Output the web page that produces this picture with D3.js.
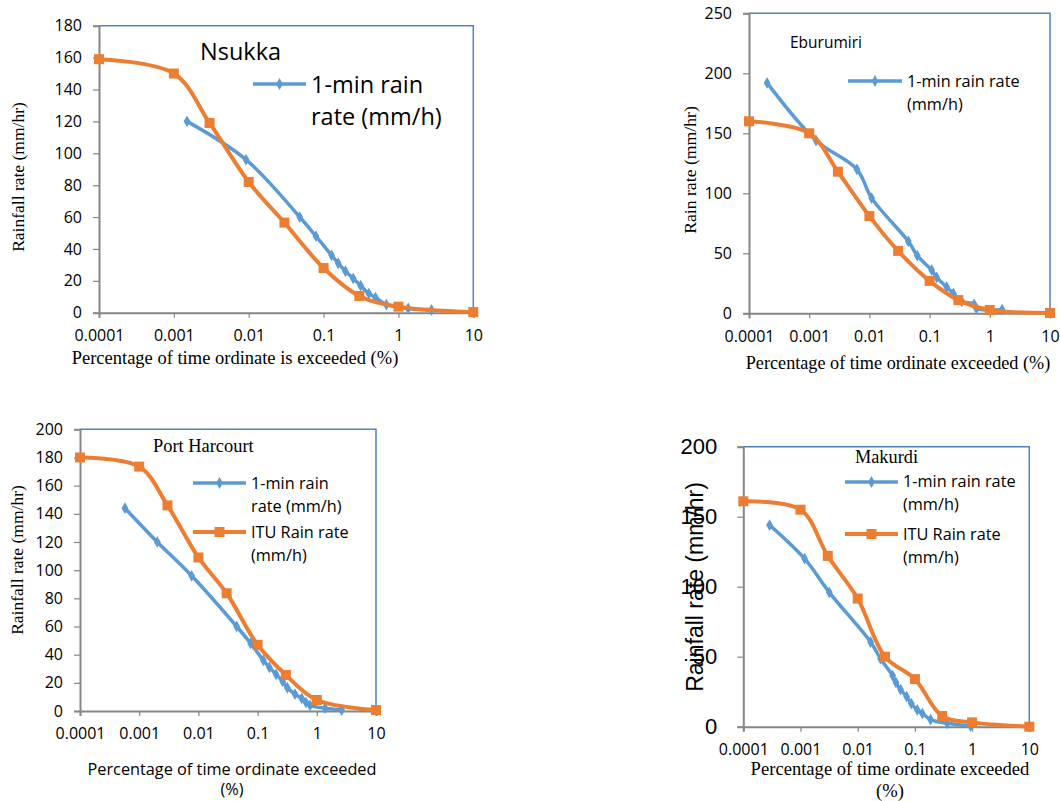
<!DOCTYPE html>
<html><head><meta charset="utf-8">
<script src="https://cdn.jsdelivr.net/npm/d3@7/dist/d3.min.js"></script>
<style>body{margin:0;background:#fff}svg{display:block}</style>
</head><body><svg id="c" width="1060" height="801"></svg>
<script>
// ---------- DATA ----------
const xTickValues = [0.0001, 0.001, 0.01, 0.1, 1, 10];
const xTickLabels = ["0.0001", "0.001", "0.01", "0.1", "1", "10"];
const ituPct = [0.0001, 0.001, 0.003, 0.01, 0.03, 0.1, 0.3, 1, 10];

const nsukkaItu = [159, 150, 119, 82, 56.5, 28, 10.5, 3.8, 0.4];
const nsukkaOneMinPct = [0.0015, 0.0092, 0.048, 0.079, 0.128, 0.157, 0.196, 0.249, 0.312, 0.403, 0.494, 0.69, 1.35, 2.76];
const nsukkaOneMin = [120, 96, 60, 48, 36, 31, 26, 21.5, 17, 12, 9.5, 5, 2.7, 1.7];

const eburumiriItu = [160, 150, 118, 81, 52, 27, 11, 2.8, 0.3];
const eburumiriOneMinPct = [0.0002, 0.0013, 0.0062, 0.0109, 0.0443, 0.0625, 0.108, 0.131, 0.192, 0.248, 0.341, 0.547, 0.6, 1.6];
const eburumiriOneMin = [192, 144, 120, 96, 60, 48, 36, 30, 22, 16.5, 10, 7.5, 4, 3];

const portHarcourtItu = [180, 173.5, 146, 109, 83.6, 47, 25.6, 7.8, 0.7];
const portHarcourtOneMinPct = [0.000575, 0.00202, 0.00769, 0.0443, 0.0764, 0.125, 0.158, 0.205, 0.265, 0.318, 0.428, 0.556, 0.658, 0.768, 1.38, 2.63];
const portHarcourtOneMin = [144, 120, 96, 60, 48, 36, 31, 26, 21, 16.5, 12, 9, 6, 4, 2, 0.7];

const makurdiItu = [161, 155, 122, 91.5, 50, 34, 7.6, 3.1, 0];
const makurdiOneMinPct = [0.000288, 0.00118, 0.00318, 0.0168, 0.0251, 0.0408, 0.0467, 0.0562, 0.0716, 0.0865, 0.110, 0.135, 0.188, 0.368, 0.94];
const makurdiOneMin = [144, 120, 96, 60.5, 48.5, 36.5, 31.5, 26.5, 21.5, 16.5, 12, 9.5, 5, 2.4, 0.5];

// ---------- STYLE ----------
const BLUE = "#5b9bd5", ORANGE = "#ed7d31", FRAME = "#4f81bd", AXIS = "#868686";
const SANS = "'Open Sans', 'Liberation Sans', sans-serif";
const SERIF = "'Liberation Serif', 'Times New Roman', serif";
const ARIAL = "'Liberation Sans', Arial, sans-serif";

const svg = d3.select("#c");

function panel(cfg) {
  const g = svg.append("g");
  const x = d3.scaleLog().domain([0.0001, 10]).range([cfg.left, cfg.right]);
  const y = d3.scaleLinear().domain([0, cfg.yMax]).range([cfg.bottom, cfg.top]);

  g.append("path")
    .attr("d", `M${cfg.left},${cfg.top}H${cfg.right}V${cfg.bottom}`)
    .attr("fill", "none").attr("stroke", FRAME).attr("stroke-width", 1.5);

  const yTicks = d3.range(0, cfg.yMax + 0.001, cfg.yStep);
  const ya = g.append("g").attr("transform", `translate(${cfg.left},0)`)
    .call(d3.axisLeft(y).tickValues(yTicks).tickSize(6).tickPadding(cfg.yPad || 11).tickFormat(d3.format("d")));
  ya.select(".domain").attr("stroke", AXIS).attr("stroke-width", 2);
  ya.selectAll(".tick line").attr("stroke", AXIS).attr("stroke-width", 1.2);
  ya.selectAll(".tick text").attr("font-family", cfg.yTickFont || SANS)
    .attr("font-size", cfg.yTickSize || 16).attr("fill", "#000");

  const xa = g.append("g").attr("transform", `translate(0,${cfg.bottom})`)
    .call(d3.axisBottom(x).tickValues(xTickValues).tickSize(5).tickPadding(12)
      .tickFormat((d, i) => xTickLabels[i]));
  xa.select(".domain").attr("stroke", AXIS).attr("stroke-width", 2);
  xa.selectAll(".tick line").attr("stroke", AXIS).attr("stroke-width", 1.2);
  xa.selectAll(".tick text").attr("font-family", SANS).attr("font-size", 16).attr("fill", "#000");

  const line = d3.line().x(d => x(d[0])).y(d => y(d[1])).curve(d3.curveCatmullRom.alpha(0.5));

  const blue = cfg.oneMinPct.map((p, i) => [p, cfg.oneMin[i]]);
  const orange = ituPct.map((p, i) => [p, cfg.itu[i]]);

  g.append("path").attr("d", line(blue)).attr("fill", "none")
    .attr("stroke", BLUE).attr("stroke-width", 3.5).attr("stroke-linejoin", "round");
  g.selectAll(".bm").data(blue).join("path")
    .attr("transform", d => `translate(${x(d[0])},${y(d[1])})`)
    .attr("d", d3.symbol(d3.symbolDiamond, 40)).attr("fill", BLUE);

  g.append("path").attr("d", line(orange)).attr("fill", "none")
    .attr("stroke", ORANGE).attr("stroke-width", 4).attr("stroke-linejoin", "round");
  g.selectAll(".om").data(orange).join("path")
    .attr("transform", d => `translate(${x(d[0])},${y(d[1])})`)
    .attr("d", d3.symbol(d3.symbolSquare, 100)).attr("fill", ORANGE);

  g.append("text").attr("x", cfg.title.x).attr("y", cfg.title.y)
    .attr("font-family", cfg.title.font).attr("font-size", cfg.title.size).text(cfg.title.text);

  cfg.legend.forEach((L, k) => {
    const col = k === 0 ? BLUE : ORANGE;
    g.append("line").attr("x1", L.x1).attr("x2", L.x2).attr("y1", L.y).attr("y2", L.y)
      .attr("stroke", col).attr("stroke-width", k === 0 ? 3.5 : 4);
    const mx = (L.x1 + L.x2) / 2;
    g.append("path").attr("transform", `translate(${mx},${L.y})`)
      .attr("d", k === 0 ? d3.symbol(d3.symbolDiamond, 40) : d3.symbol(d3.symbolSquare, 100)).attr("fill", col);
    L.lines.forEach((t, j) => {
      g.append("text").attr("x", L.tx).attr("y", L.ty + j * L.lh)
        .attr("font-family", SANS).attr("font-size", L.size).text(t);
    });
  });

  g.append("text").attr("transform", `translate(${cfg.yTitle.x},${cfg.yTitle.y}) rotate(-90)`)
    .attr("text-anchor", "middle").attr("dominant-baseline", "central")
    .attr("font-family", cfg.yTitle.font).attr("font-size", cfg.yTitle.size).text(cfg.yTitle.text);

  cfg.xTitle.lines.forEach((t, j) => {
    g.append("text").attr("x", cfg.xTitle.x).attr("y", cfg.xTitle.y + j * cfg.xTitle.lh)
      .attr("text-anchor", "middle").attr("font-family", cfg.xTitle.font)
      .attr("font-size", cfg.xTitle.size).text(t);
  });
}

panel({
  left: 99, right: 473.3, top: 25.7, bottom: 312.7, yMax: 180, yStep: 20,
  itu: nsukkaItu, oneMinPct: nsukkaOneMinPct, oneMin: nsukkaOneMin,
  title: { text: "Nsukka", x: 200, y: 60, size: 23.5, font: SANS },
  legend: [{ x1: 253, x2: 306, y: 84, tx: 311, ty: 93, lh: 32, size: 23.5, lines: ["1-min rain", "rate (mm/h)"] }],
  yTitle: { text: "Rainfall rate (mm/hr)", x: 18, y: 177, size: 17.5, font: SERIF },
  xTitle: { lines: ["Percentage of time ordinate is exceeded (%)"], x: 235, y: 364, lh: 0, size: 18.5, font: SERIF }
});

panel({
  left: 749, right: 1050, top: 13.3, bottom: 313.3, yMax: 250, yStep: 50,
  itu: eburumiriItu, oneMinPct: eburumiriOneMinPct, oneMin: eburumiriOneMin,
  title: { text: "Eburumiri", x: 790, y: 48, size: 15.5, font: SANS },
  legend: [{ x1: 848, x2: 902, y: 81, tx: 907, ty: 87, lh: 23, size: 16.3, lines: ["1-min rain rate", "(mm/h)"] }],
  yTitle: { text: "Rain rate (mm/hr)", x: 690, y: 170, size: 17.7, font: SERIF },
  xTitle: { lines: ["Percentage of time ordinate exceeded (%)"], x: 898, y: 369, lh: 0, size: 18.2, font: SERIF }
});

panel({
  left: 80, right: 376, top: 429.3, bottom: 711, yMax: 200, yStep: 20,
  itu: portHarcourtItu, oneMinPct: portHarcourtOneMinPct, oneMin: portHarcourtOneMin,
  title: { text: "Port Harcourt", x: 153, y: 452, size: 18.4, font: SERIF },
  legend: [
    { x1: 193, x2: 246, y: 483, tx: 251, ty: 489, lh: 23, size: 16.3, lines: ["1-min rain", "rate (mm/h)"] },
    { x1: 193, x2: 246, y: 532, tx: 251, ty: 538, lh: 23, size: 16.3, lines: ["ITU Rain rate", "(mm/h)"] }
  ],
  yTitle: { text: "Rainfall rate (mm/hr)", x: 17, y: 560, size: 17.5, font: SERIF },
  xTitle: { lines: ["Percentage of time ordinate exceeded", "(%)"], x: 232, y: 775, lh: 20, size: 16.3, font: SANS }
});

panel({
  left: 743.3, right: 1029.3, top: 446.7, bottom: 726.7, yMax: 200, yStep: 50,
  yPad: 20, yTickSize: 22, yTickFont: ARIAL,
  itu: makurdiItu, oneMinPct: makurdiOneMinPct, oneMin: makurdiOneMin,
  title: { text: "Makurdi", x: 855, y: 463, size: 18.3, font: SERIF },
  legend: [
    { x1: 845, x2: 898, y: 482, tx: 903, ty: 487, lh: 23, size: 16.3, lines: ["1-min rain rate", "(mm/h)"] },
    { x1: 845, x2: 898, y: 534, tx: 903, ty: 540, lh: 23, size: 16.3, lines: ["ITU Rain rate", "(mm/h)"] }
  ],
  yTitle: { text: "Rainfall rate (mm/hr)", x: 695, y: 587, size: 23, font: ARIAL },
  xTitle: { lines: ["Percentage of time ordinate exceeded", "(%)"], x: 890, y: 775, lh: 22, size: 18.6, font: SERIF }
});
</script>
</body></html>
